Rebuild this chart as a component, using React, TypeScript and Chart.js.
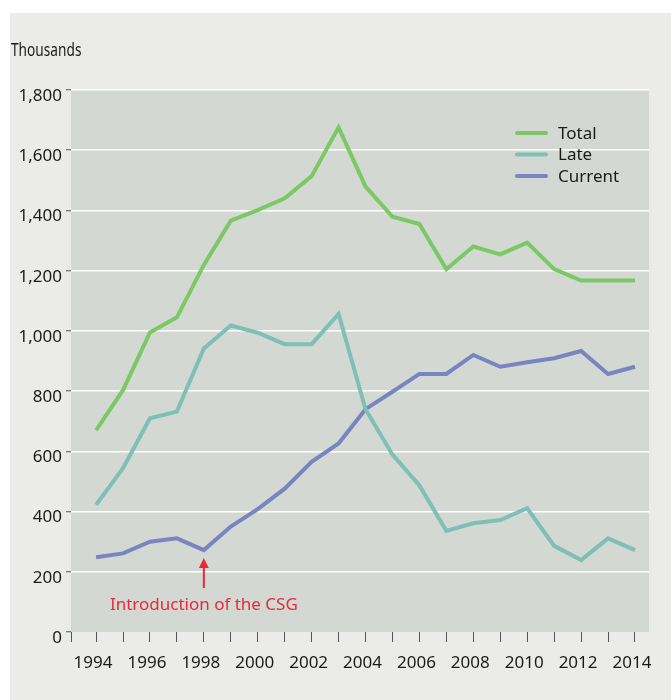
import { useEffect, useRef } from 'react';
import { Chart, registerables } from 'chart.js';

Chart.register(...registerables);

const YEARS = [1994, 1995, 1996, 1997, 1998, 1999, 2000, 2001, 2002, 2003, 2004, 2005, 2006, 2007, 2008, 2009, 2010, 2011, 2012, 2013, 2014];
const TOTAL = [670, 803, 995, 1045, 1219, 1366, 1401, 1440, 1514, 1676, 1479, 1379, 1355, 1205, 1280, 1254, 1293, 1205, 1167, 1167, 1167];
const LATE = [422, 544, 710, 732, 942, 1018, 994, 956, 956, 1056, 740, 589, 487, 336, 361, 372, 411, 286, 239, 311, 272];
const CURRENT = [248, 261, 300, 311, 272, 350, 408, 476, 565, 626, 740, 798, 857, 857, 920, 881, 896, 909, 933, 857, 881];
const SERIES_NAMES = ['Total', 'Late', 'Current'];
const Y_MIN = 0;
const Y_MAX = 1800;
const Y_STEP = 200;
const X_MIN = 1993.07;
const X_MAX = 2014.52;
const UNIT_LABEL = 'Thousands';
const ANNOTATION_YEAR = 1998;
const ANNOTATION_TEXT = 'Introduction of the CSG';

const COLORS = ['#7dc866', '#7fbfb6', '#7a84c0'];
const FONT = '"Noto Sans", sans-serif';
const TEXT_COLOR = '#1a1a1a';
const PLOT_BG = '#d4d8d2';
const PAGE_BG = '#ebecea';
const RED = '#ea283c';

const toPoints = (vals: number[]) => YEARS.map((y, i) => ({ x: y, y: vals[i] }));

const customPlugin = {
  id: 'custom',
  beforeDraw(chart: any) {
    const { ctx, chartArea } = chart;
    ctx.save();
    ctx.fillStyle = PLOT_BG;
    ctx.fillRect(chartArea.left, chartArea.top, chartArea.right - chartArea.left, chartArea.bottom - chartArea.top);
    ctx.restore();
  },
  afterDraw(chart: any) {
    const { ctx, chartArea, scales } = chart;
    ctx.save();
    // unit label
    ctx.fillStyle = TEXT_COLOR;
    ctx.font = `18px ${FONT}`;
    ctx.textBaseline = 'middle';
    ctx.textAlign = 'left';
    ctx.save();
    ctx.translate(1, 38);
    ctx.scale(0.76, 1);
    ctx.fillText(UNIT_LABEL, 0, 0);
    ctx.restore();

    // legend
    chart.data.datasets.forEach((ds: any, i: number) => {
      const y = chartArea.top + 43 + i * 21.5;
      ctx.strokeStyle = ds.borderColor;
      ctx.lineWidth = 4;
      ctx.lineCap = 'round';
      ctx.beginPath();
      ctx.moveTo(chartArea.right - 132, y);
      ctx.lineTo(chartArea.right - 103, y);
      ctx.stroke();
      ctx.fillStyle = TEXT_COLOR;
      ctx.font = `17px ${FONT}`;
      ctx.textBaseline = 'middle';
      ctx.fillText(ds.label, chartArea.right - 91, y + 1);
    });

    // annotation
    const idx = YEARS.indexOf(ANNOTATION_YEAR);
    const ax = scales.x.getPixelForValue(ANNOTATION_YEAR);
    const py = scales.y.getPixelForValue(CURRENT[idx]);
    const tip = py + 8;
    ctx.strokeStyle = RED;
    ctx.fillStyle = RED;
    ctx.lineWidth = 2;
    ctx.lineCap = 'butt';
    ctx.beginPath();
    ctx.moveTo(ax, tip + 8);
    ctx.lineTo(ax, tip + 30);
    ctx.stroke();
    ctx.beginPath();
    ctx.moveTo(ax, tip);
    ctx.lineTo(ax - 5, tip + 10);
    ctx.lineTo(ax + 5, tip + 10);
    ctx.closePath();
    ctx.fill();
    ctx.font = `17px ${FONT}`;
    ctx.textAlign = 'center';
    ctx.textBaseline = 'middle';
    ctx.fillText(ANNOTATION_TEXT, ax, tip + 47);
    ctx.restore();
  },
};

export default function App() {
  const ref = useRef<HTMLCanvasElement>(null);
  useEffect(() => {
    if (!ref.current) return;
    const seriesVals = [TOTAL, LATE, CURRENT];
    const chart = new Chart(ref.current, {
      type: 'line',
      data: {
        datasets: SERIES_NAMES.map((name, i) => ({
          label: name,
          data: toPoints(seriesVals[i]),
          borderColor: COLORS[i],
          backgroundColor: COLORS[i],
          borderWidth: 4,
          pointRadius: 0,
          tension: 0,
          fill: false,
        })),
      },
      options: {
        animation: false,
        responsive: true,
        maintainAspectRatio: false,
        layout: { padding: { top: 77, right: 22, left: 0, bottom: 0 } },
        plugins: { legend: { display: false }, tooltip: { enabled: false } },
        scales: {
          x: {
            type: 'linear',
            min: X_MIN,
            max: X_MAX,
            afterBuildTicks: (scale: any) => {
              scale.ticks = [X_MIN, ...YEARS].map((v) => ({ value: v }));
            },
            afterFit: (scale: any) => {
              scale.height = 68;
            },
            border: { display: false },
            grid: { drawOnChartArea: false, drawTicks: true, tickLength: 10, tickColor: '#555', tickWidth: 1 },
            ticks: {
              autoSkip: false,
              maxRotation: 0,
              padding: 11,
              labelOffset: -3,
              color: TEXT_COLOR,
              font: { family: FONT, size: 17 },
              callback: (v: any) => (Number.isInteger(v) && v % 2 === 0 ? String(v) : ''),
            },
          },
          y: {
            min: Y_MIN,
            max: Y_MAX,
            afterFit: (scale: any) => {
              scale.width = 61;
            },
            border: { display: false },
            grid: {
              color: (c: any) => (c.tick && c.tick.value === 0 ? 'rgba(0,0,0,0)' : '#ffffff'),
              lineWidth: 1.5,
              tickLength: 5,
              tickColor: '#555',
              tickWidth: 1,
            },
            ticks: {
              stepSize: Y_STEP,
              padding: 4,
              labelOffset: 6,
              color: TEXT_COLOR,
              font: { family: FONT, size: 17 },
              callback: (v: any) => Number(v).toLocaleString('en-US'),
            },
          },
        },
      },
      plugins: [customPlugin],
    });
    return () => chart.destroy();
  }, []);
  return (
    <div style={{ position: 'absolute', left: 10, top: 13, width: 661, height: 687, background: PAGE_BG }}>
      <canvas ref={ref} />
    </div>
  );
}
